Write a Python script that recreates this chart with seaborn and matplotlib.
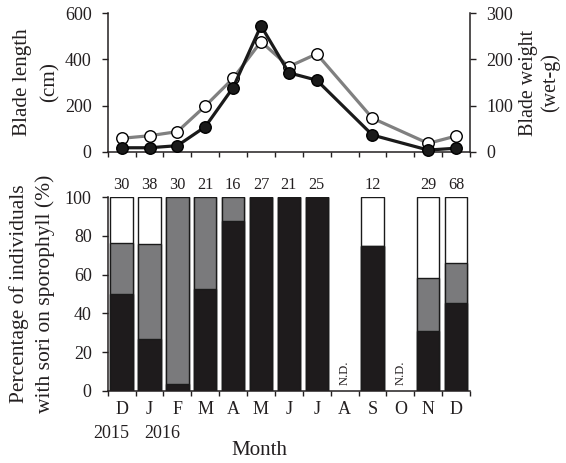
import numpy as np
import pandas as pd
import matplotlib
matplotlib.use("Agg")
import matplotlib.pyplot as plt
import matplotlib.transforms as mtransforms
import seaborn as sns

# ---------------- data ----------------
months = ["D", "J", "F", "M", "A", "M", "J", "J", "A", "S", "O", "N", "D"]
year_labels = ["2015", "2016"]
keys = ["Dec15", "Jan16", "Feb16", "Mar16", "Apr16", "May16", "Jun16",
        "Jul16", "Aug16", "Sep16", "Oct16", "Nov16", "Dec16"]

blade_length_cm = [58, 69, 87, 198, 318, 477, 369, 424, np.nan, 145, np.nan, 36, 68]
blade_weight_g = [8.5, 8.5, 13, 54, 139, 273, 171, 155, np.nan, 36, np.nan, 3.5, 7.5]

pct_black = [50, 26.5, 3.5, 52.5, 87.5, 100, 100, 100, np.nan, 75, np.nan, 31, 45.5]
pct_gray = [26.5, 49.5, 96.5, 47.5, 12.5, 0, 0, 0, np.nan, 0, np.nan, 27.5, 20.5]
pct_white = [23.5, 24, 0, 0, 0, 0, 0, 0, np.nan, 25, np.nan, 41.5, 34]
n_individuals = [30, 38, 30, 21, 16, 27, 21, 25, None, 12, None, 29, 68]

# ---------------- style ----------------
sns.set_theme(style="ticks")
plt.rcParams["font.family"] = ["Liberation Serif", "DejaVu Serif"]
TXT = "#231f20"
plt.rcParams["text.color"] = TXT
plt.rcParams["axes.labelcolor"] = TXT
plt.rcParams["xtick.color"] = TXT
plt.rcParams["ytick.color"] = TXT
plt.rcParams["axes.edgecolor"] = TXT

fig = plt.figure(figsize=(5.66, 4.63), dpi=100)
ax1 = fig.add_axes([0.1903, 0.6724, 0.6401, 0.2989])
ax2 = fig.add_axes([0.1903, 0.1562, 0.6401, 0.4177])
ax1r = ax1.twinx()

TICK_FS = 13

# ---------------- top panel ----------------
df = pd.DataFrame({"pos": np.arange(len(months)),
                   "length": blade_length_cm,
                   "weight": blade_weight_g})

sns.lineplot(data=df.dropna(subset=["length"]), x="pos", y="length", ax=ax1,
             color="#808080", lw=2.3, marker="o", markersize=8.3,
             markerfacecolor="white", markeredgecolor="black",
             markeredgewidth=1.0, clip_on=False, zorder=3)
sns.lineplot(data=df.dropna(subset=["weight"]), x="pos", y="weight", ax=ax1r,
             color="#1a1a1a", lw=2.3, marker="o", markersize=8.3,
             markerfacecolor="#1a1a1a", markeredgecolor="black",
             markeredgewidth=1.0, clip_on=False, zorder=3)

ax1.set_xlim(-0.5, len(months) - 0.5)
ax1.set_ylim(0, 600)
ax1r.set_ylim(0, 300)
ax1.set_yticks([0, 200, 400, 600])
ax1r.set_yticks([0, 100, 200, 300])
ax1.set_xticks(np.arange(-0.5, len(months), 1))
ax1.set_xticklabels([])
ax1.set_xlabel("")
ax1r.set_xlabel("")
ax1.set_ylabel("Blade length\n(cm)", fontsize=15.2, linespacing=1.6)
ax1.yaxis.set_label_coords(-0.133, 0.5)
ax1r.set_ylabel("Blade weight\n(wet-g)", fontsize=14.4, linespacing=1.2,
                rotation=90)
ax1r.yaxis.set_label_coords(1.135, 0.5)
for a in (ax1, ax1r):
    a.tick_params(axis="y", direction="out", length=4.5, width=1,
                  labelsize=TICK_FS, pad=7)
    a.tick_params(axis="x", direction="out", length=3.5, width=1)
    for s in a.spines.values():
        s.set_linewidth(1.1)
ax1.spines["top"].set_visible(False)
ax1.spines["right"].set_visible(False)
ax1r.spines["top"].set_visible(False)
ax1r.spines["left"].set_visible(False)
ax1r.spines["bottom"].set_visible(False)

# ---------------- bottom panel ----------------
cum_gray = [b + g for b, g in zip(pct_black, pct_gray)]
total = [b + g + w for b, g, w in zip(pct_black, pct_gray, pct_white)]
bdf = pd.DataFrame({"key": keys, "total": total, "cum_gray": cum_gray,
                    "black": pct_black})

common = dict(order=keys, edgecolor="#1a1a1a", linewidth=1.0, width=0.8,
              ax=ax2, errorbar=None, saturation=1)
sns.barplot(data=bdf, x="key", y="total", color="white", **common)
sns.barplot(data=bdf, x="key", y="cum_gray", color="#7a7a7c", **common)
sns.barplot(data=bdf, x="key", y="black", color="#1e1b1c", **common)

for i, n in enumerate(n_individuals):
    if n is not None:
        ax2.text(i, 106.4, str(n), ha="center", va="center",
                 fontsize=11.7, clip_on=False)
    else:
        ax2.text(i, 3, "N.D.", ha="center", va="bottom", rotation=90,
                 fontsize=9)

ax2.set_xlim(-0.5, len(months) - 0.5)
ax2.set_ylim(0, 100)
ax2.set_yticks(np.arange(0, 101, 20))
ax2.set_xticks(np.arange(len(months)))
ax2.set_xticklabels(months, fontsize=TICK_FS)
ax2.set_xticks(np.arange(-0.5, len(months), 1), minor=True)
ax2.tick_params(axis="x", which="major", length=0, pad=7.5)
ax2.tick_params(axis="x", which="minor", direction="out", length=3.5, width=1)
ax2.tick_params(axis="y", direction="out", length=4.5, width=1,
                labelsize=TICK_FS, pad=7)

# year annotations under the first two months
trans = mtransforms.blended_transform_factory(ax2.transData, ax2.transAxes)
for xpos, yl in zip([-0.39, 1.45], year_labels):
    ax2.text(xpos, -0.246, yl, transform=trans, ha="center", va="baseline",
             fontsize=TICK_FS, clip_on=False)

ax2.set_xlabel("Month", fontsize=15.1)
ax2.xaxis.set_label_coords(0.42, -0.258)
ax2.set_ylabel("Percentage of individuals\nwith sori on sporophyll (%)",
               fontsize=15.5, linespacing=1.38)
ax2.yaxis.set_label_coords(-0.1466, 0.5)
ax2.spines["top"].set_visible(False)
ax2.spines["right"].set_visible(False)
for s in ax2.spines.values():
    s.set_linewidth(1.1)

fig.savefig("out.png", dpi=100)
